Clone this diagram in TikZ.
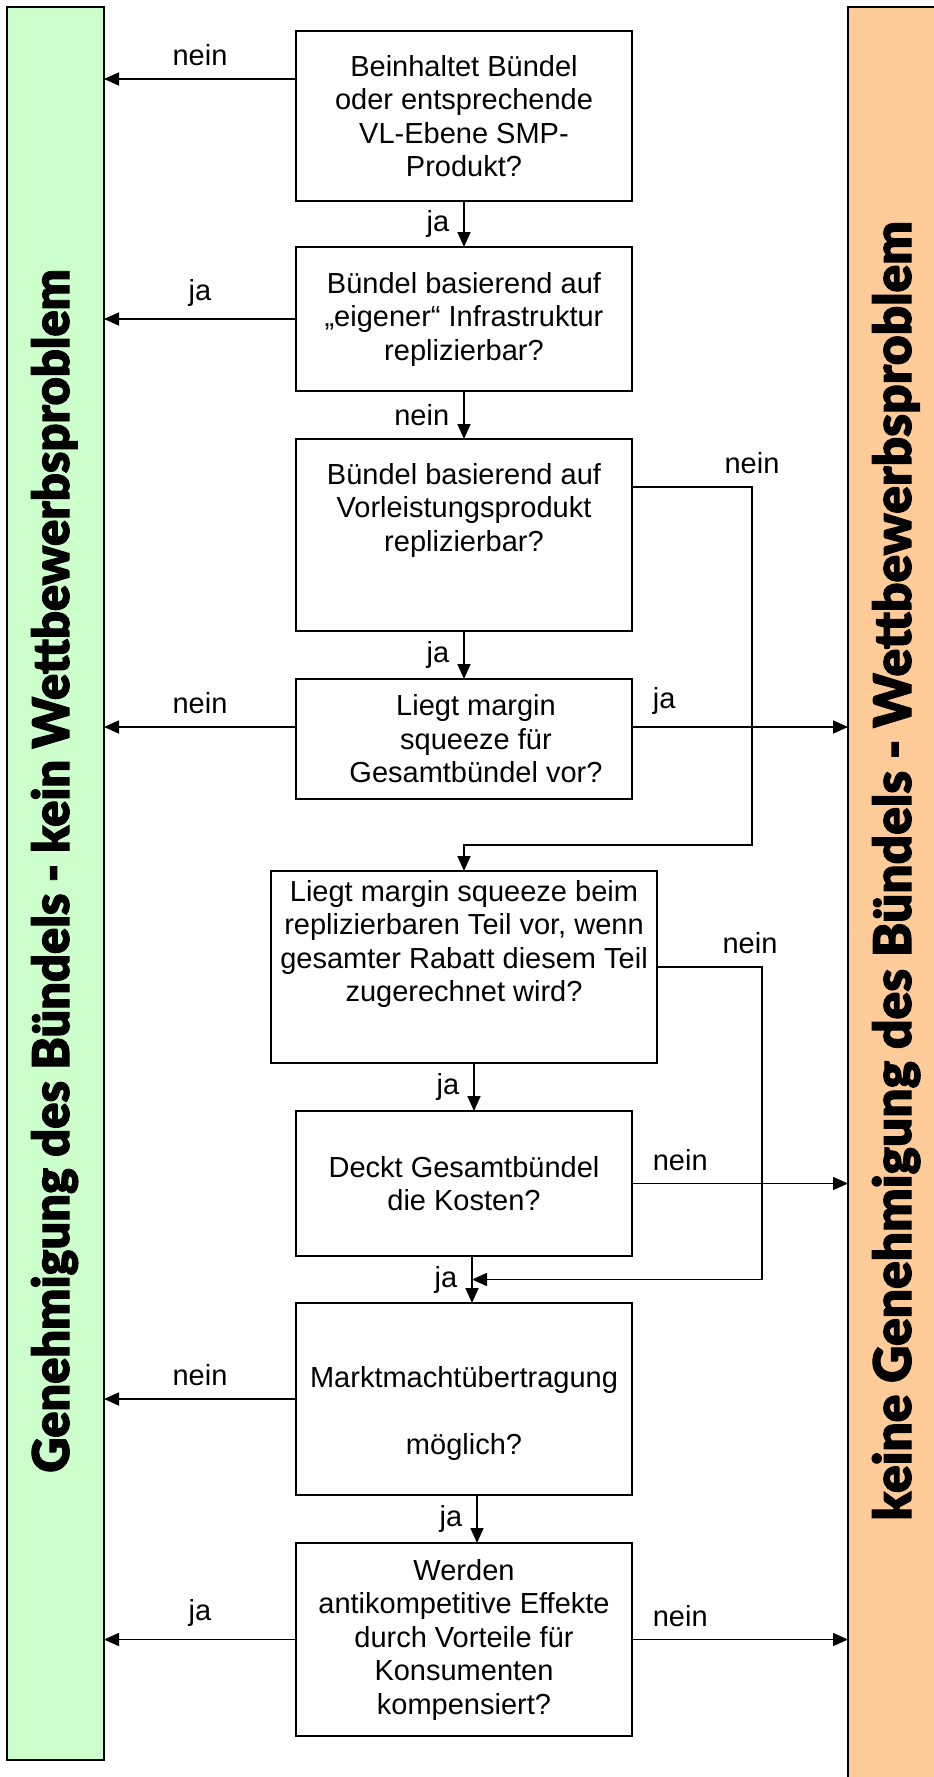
\documentclass[tikz,border=0pt]{standalone}
\usepackage{fontspec}
\setmainfont{Liberation Sans}
\IfFontExistsTF{Lato Black}{\newfontfamily\heavyfont{Lato Black}[FakeBold=2]}{\newfontfamily\heavyfont{DejaVu Sans Bold}[FakeBold=2]}
\usepackage{graphicx}
\usepackage{xcolor}
\usepackage{tikz}
\usetikzlibrary{arrows.meta,positioning}
\definecolor{okgreen}{HTML}{CCFFCC}
\definecolor{nogoorange}{HTML}{FFCC99}

\begin{document}
\begin{tikzpicture}[
  x=0.5pt, y=-0.5pt,
  font=\fontsize{14.5pt}{16.75pt}\selectfont,
  >={Triangle[length=7.5pt,width=6.5pt]},
  qbox/.style={draw, line width=1pt, fill=white, align=center, minimum width=168pt, inner sep=0pt, outer sep=0pt},
  qtext/.style={align=center, inner sep=0pt},
  bar/.style={draw, line width=1pt, inner sep=0pt, outer sep=0pt},
  bartext/.style={rotate=90, anchor=base, inner sep=0pt, font=\heavyfont},
  lbl/.style={inner sep=2pt},
  arr/.style={->, line width=0.85pt},
]
\useasboundingbox (0,0) rectangle (933,1777);
% Ergebnis-Balken
\node[bar, fill=okgreen, minimum width=48.5pt, minimum height=876.5pt] (ok) at (55.5,883.5) {};
\node[bar, fill=nogoorange, minimum width=76pt, minimum height=896.5pt] (nogo) at (924,903.5) {};
\node[bartext] (oktxt) at (69,871) {\resizebox{601.5pt}{19pt}{Genehmigung des Bündels - kein Wettbewerbsproblem}};
\node[bartext] (nogotxt) at (911,871) {\resizebox{649.5pt}{19.5pt}{keine Genehmigung des Bündels - Wettbewerbsproblem}};
% Prüfschritte
\node[qbox, minimum height=85pt] (q1) at (464,116) {Beinhaltet Bündel\\oder entsprechende\\VL-Ebene SMP-\\Produkt?};
\node[qbox, minimum height=72pt, below=23pt of q1] (q2) {Bündel basierend auf\\„eigener“ Infrastruktur\\replizierbar?};
\node[qbox, minimum height=96pt, below=24pt of q2] (q3) {};
\node[qtext, yshift=12.5pt] (q3txt) at (q3) {Bündel basierend auf\\Vorleistungsprodukt\\replizierbar?};
\node[qbox, minimum height=60pt, below=24pt of q3] (q4) {};
\node[qtext, xshift=6pt] (q4txt) at (q4) {Liegt margin\\squeeze für\\Gesamtbündel vor?};
\node[qbox, minimum width=193pt, minimum height=96pt, below=36pt of q4] (q5) {};
\node[qtext, yshift=11.5pt] (q5txt) at (q5) {Liegt margin squeeze beim\\replizierbaren Teil vor, wenn\\gesamter Rabatt diesem Teil\\zugerechnet wird?};
\node[qbox, minimum height=72.5pt, below=24pt of q5] (q6) {Deckt Gesamtbündel\\die Kosten?};
\node[qbox, minimum height=96pt, below=23.5pt of q6] (q7) {};
\node[qtext, yshift=-7pt] (q7txt) at (q7) {Marktmachtübertragung\\[16.75pt]möglich?};
\node[qbox, minimum height=96.5pt, below=24pt of q7] (q8) {Werden\\antikompetitive Effekte\\durch Vorteile für\\Konsumenten\\kompensiert?};
% Pfeile nach unten
\draw[arr] (q1) -- (q2) node[lbl, midway, left=5pt]{ja};
\draw[arr] (q2) -- (q3) node[lbl, midway, left=5pt]{nein};
\draw[arr] (q3) -- (q4) node[lbl, midway, left=5pt]{ja};
\draw[arr] ([xshift=5pt]q5.south) -- ([xshift=5pt]q5.south |- q6.north) node[lbl, midway, left=5pt]{ja};
\draw[arr] ([xshift=4pt]q6.south) -- coordinate[midway] (j67) ([xshift=4pt]q6.south |- q7.north) node[lbl, midway, left=5pt]{ja};
\draw[arr] ([xshift=6.5pt]q7.south) -- ([xshift=6.5pt]q7.south |- q8.north) node[lbl, midway, left=5pt]{ja};
% Rücksprünge
\draw[arr] ([yshift=24pt]q3.east) -- ++(60pt,0) node[lbl, above=4pt]{nein} |- ([yshift=13pt]q5.north) -- (q5.north);
\draw[arr] (q5.east) -- ++(52.5pt,0) node[lbl, above=4pt, xshift=-6pt]{nein} |- (j67);
% Pfeile zu den Balken
\draw[arr] ([yshift=18.5pt]q1.west) coordinate (q1w) -- (q1w -| ok.east) node[lbl, midway, above=4pt]{nein};
\draw[arr] (q2.west) -- (q2.west -| ok.east) node[lbl, midway, above=4pt]{ja};
\draw[arr] ([yshift=6pt]q4.west) coordinate (q4w) -- (q4w -| ok.east) node[lbl, midway, above=4pt]{nein};
\draw[arr] ([yshift=6pt]q4.east) coordinate (q4e) -- (q4e -| nogo.west) node[lbl, pos=0, above right=4pt and 8pt]{ja};
\draw[arr] (q6.east) -- (q6.east -| nogo.west) node[lbl, pos=0, above right=4pt and 8pt]{nein};
\draw[arr] (q7.west) -- (q7.west -| ok.east) node[lbl, midway, above=4pt]{nein};
\draw[arr] (q8.west) -- (q8.west -| ok.east) node[lbl, midway, above=4pt]{ja};
\draw[arr] (q8.east) -- (q8.east -| nogo.west) node[lbl, pos=0, above right=4pt and 8pt]{nein};
\end{tikzpicture}
\end{document}
